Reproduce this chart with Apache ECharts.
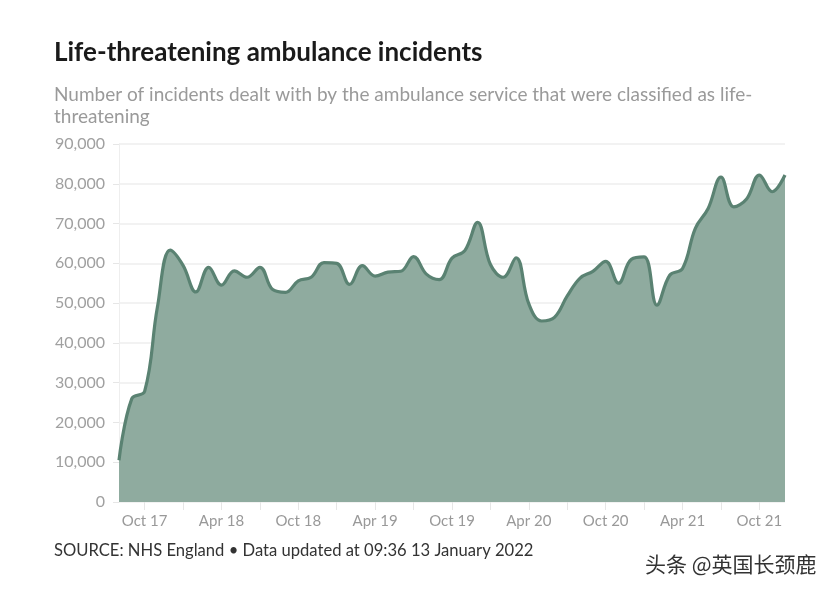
<!DOCTYPE html>
<html>
<head>
<meta charset="utf-8">
<script src="https://cdn.jsdelivr.net/npm/echarts@6/dist/echarts.min.js"></script>
<style>
html,body{margin:0;padding:0;background:#fff;}
#chart{width:838px;height:592px;}
</style>
</head>
<body>
<div id="chart"></div>
<script>
const months = [
  'Aug 17','Sep 17','Oct 17','Nov 17','Dec 17',
  'Jan 18','Feb 18','Mar 18','Apr 18','May 18','Jun 18','Jul 18','Aug 18','Sep 18','Oct 18','Nov 18','Dec 18',
  'Jan 19','Feb 19','Mar 19','Apr 19','May 19','Jun 19','Jul 19','Aug 19','Sep 19','Oct 19','Nov 19','Dec 19',
  'Jan 20','Feb 20','Mar 20','Apr 20','May 20','Jun 20','Jul 20','Aug 20','Sep 20','Oct 20','Nov 20','Dec 20',
  'Jan 21','Feb 21','Mar 21','Apr 21','May 21','Jun 21','Jul 21','Aug 21','Sep 21','Oct 21','Nov 21','Dec 21'
];
const incidents = [
  10500, 26000, 27800, 49000, 63300,
  59500, 52800, 59000, 54500, 58100, 56500, 59000, 53400, 52700, 55600, 56500, 60200,
  60000, 54700, 59400, 56800, 57800, 58000, 61700, 57300, 55900, 61300, 63200, 70300,
  59700, 56500, 61400, 49800, 45500, 46400, 51800, 56300, 58000, 60500, 55000, 61000,
  61600, 49500, 57000, 58700, 68800, 73800, 81700, 74200, 76200, 82200, 78000, 82200
];
const yTicks = [0, 10000, 20000, 30000, 40000, 50000, 60000, 70000, 80000, 90000];

const titleText = 'Life-threatening ambulance incidents';
const subtitleText = 'Number of incidents dealt with by the ambulance service that were classified as life-\nthreatening';
const sourceText = 'SOURCE: NHS England \u2022 Data updated at 09:36 13 January 2022';
const watermarkText = '头条 @英国长颈鹿';

const chart = echarts.init(document.getElementById('chart'), null, {renderer: 'canvas'});
const FONT = 'Lato, "Noto Sans", sans-serif';
chart.setOption({
  backgroundColor: '#ffffff',
  animation: false,
  title: [
    {text: titleText, left: 49, top: 35,
     textStyle: {fontFamily: FONT, fontWeight: 'bold', fontSize: 26, color: '#1a1a1a'}},
    {text: subtitleText, left: 49, top: 79,
     textStyle: {fontFamily: FONT, fontWeight: 'normal', fontSize: 19, color: '#9a9a9a', lineHeight: 22}},
    {text: sourceText, left: 49, top: 537,
     textStyle: {fontFamily: FONT, fontWeight: 'normal', fontSize: 16.6, color: '#333333'}},
    {text: watermarkText, left: 640, top: 549,
     textStyle: {fontFamily: '"Noto Sans CJK SC", sans-serif', fontWeight: 'normal', fontSize: 21, color: '#333333'}}
  ],
  grid: {left: 119, right: 53, top: 144, bottom: 90, containLabel: false},
  xAxis: {
    type: 'category',
    data: months,
    boundaryGap: false,
    axisLine: {show: false},
    axisTick: {show: true, alignWithLabel: true, length: 8, lineStyle: {color: '#e6e6e6'},
               interval: function (i) { return i % 3 === 2; }},
    axisLabel: {interval: function (i) { return i % 6 === 2; }, color: '#999999', fontSize: 15,
                fontFamily: FONT, margin: 12},
    splitLine: {show: false}
  },
  yAxis: {
    type: 'value',
    min: yTicks[0], max: yTicks[yTicks.length - 1], interval: 10000,
    axisLine: {show: true, lineStyle: {color: '#eeeeee', width: 1}},
    axisTick: {show: true, length: 6, lineStyle: {color: '#e6e6e6'}},
    axisLabel: {color: '#a0a0a0', fontSize: 16, fontFamily: FONT, margin: 14,
                formatter: function (v) { return v.toLocaleString('en-US'); }},
    splitLine: {show: true, lineStyle: {color: '#eeeeee', width: 1.5}}
  },
  series: [{
    type: 'line',
    data: incidents,
    smooth: 0.4,
    symbol: 'none',
    lineStyle: {color: '#5a8272', width: 3.2},
    areaStyle: {color: '#8fab9f', opacity: 1},
    z: 3
  }]
});
</script>
</body>
</html>
